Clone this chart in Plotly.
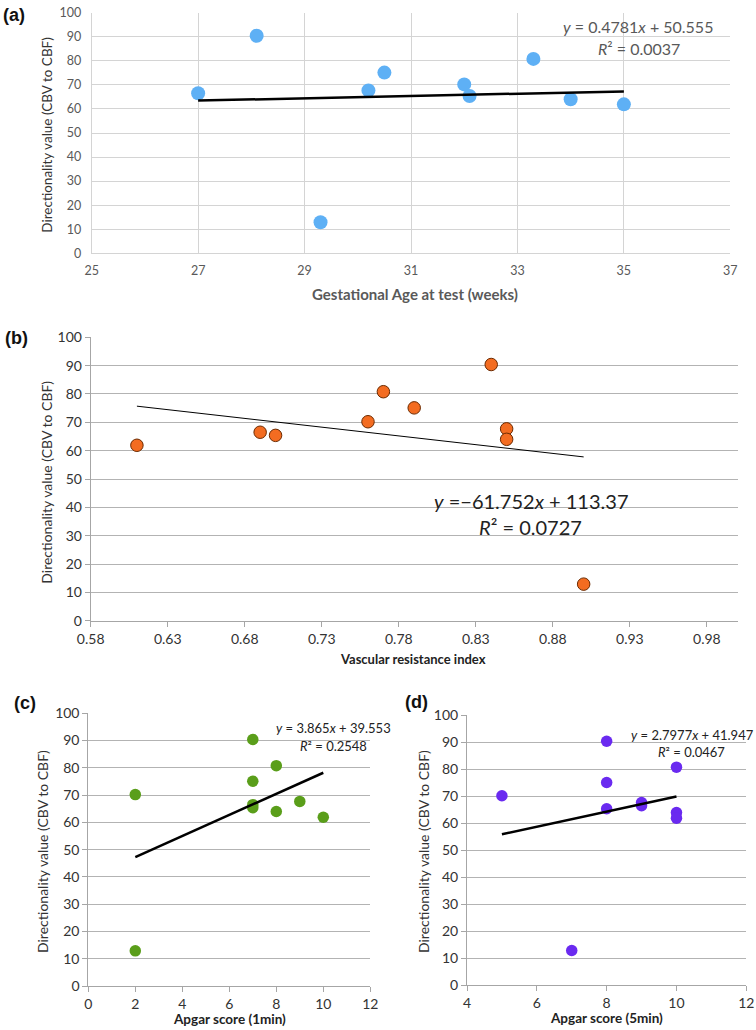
import plotly.graph_objects as go

# ---- data ----
directionality = [66.5, 90.4, 12.9, 67.7, 75.1, 70.2, 65.4, 80.8, 64.0, 61.9]
gest_age = [27.0, 28.1, 29.3, 30.2, 30.5, 32.0, 32.1, 33.3, 34.0, 35.0]
vri = [0.69, 0.84, 0.90, 0.85, 0.79, 0.76, 0.70, 0.77, 0.85, 0.61]
apgar1 = [7, 7, 2, 9, 7, 2, 7, 8, 8, 10]
apgar5 = [9, 8, 7, 9, 8, 5, 8, 10, 10, 10]

fit_a = (0.4781, 50.555)
fit_b = (-61.752, 113.37)
fit_c = (3.865, 39.553)
fit_d = (2.7977, 41.947)

W, H = 756, 1030
FONT = "Lato"

def px(x):
    return x / W

def py(y):
    return 1 - y / H

fig = go.Figure()

def add_panel(n, xs, ys, fit, color, msize, line_w, outline=None):
    xa = "x" if n == 1 else f"x{n}"
    ya = "y" if n == 1 else f"y{n}"
    fig.add_trace(go.Scatter(
        x=xs, y=ys, mode="markers", xaxis=xa, yaxis=ya,
        marker=dict(size=msize, color=color, opacity=1,
                    line=dict(width=1 if outline else 0, color=outline or color)),
        showlegend=False))
    x0, x1 = min(xs), max(xs)
    m, b = fit
    fig.add_trace(go.Scatter(
        x=[x0, x1], y=[m * x0 + b, m * x1 + b], mode="lines", xaxis=xa, yaxis=ya,
        line=dict(color="black", width=line_w), showlegend=False))

add_panel(1, gest_age, directionality, fit_a, "#5EB0F5", 14, 2.5)
add_panel(2, vri, directionality, fit_b, "#F36C21", 12.5, 1, outline="#6B2A00")
add_panel(3, apgar1, directionality, fit_c, "#5A9E1A", 11.5, 2.5)
add_panel(4, apgar5, directionality, fit_d, "#6A2AF0", 11.5, 2.5)

# ---- axes ----
grey_tick = dict(family=FONT, size=12.5, color="#595959")
dark_tick = dict(family=FONT, size=14, color="#333333")

common = dict(automargin=False, zeroline=False, showline=True)

fig.update_layout(
    xaxis=dict(domain=[px(91.7), px(730.3)], range=[25, 37], dtick=2, tick0=25,
               showgrid=True, gridcolor="#D4D4D4", gridwidth=1,
               linecolor="#D4D4D4", ticks="outside", ticklen=6,
               tickcolor="rgba(0,0,0,0)", tickfont=grey_tick, anchor="y", **common),
    yaxis=dict(domain=[py(253.3), py(12.7)], range=[0, 100], dtick=10,
               showgrid=True, gridcolor="#D4D4D4", gridwidth=1,
               linecolor="#D4D4D4", ticks="outside", ticklen=7,
               tickcolor="rgba(0,0,0,0)", tickfont=grey_tick, anchor="x", **common),
    xaxis2=dict(domain=[px(90.7), px(737.7)], range=[0.58, 1.0], dtick=0.05, tick0=0.58,
                tickformat=".2f", showgrid=False,
                linecolor="#A6A6A6", ticks="outside", ticklen=5,
                tickcolor="#A6A6A6", tickfont=dark_tick, anchor="y2", **common),
    yaxis2=dict(domain=[py(620.7), py(337.3)], range=[0, 100], dtick=10,
                showgrid=True, gridcolor="#B3B3B3",
                linecolor="#A6A6A6", ticks="outside", ticklen=5,
                tickcolor="#A6A6A6", tickfont=dark_tick, anchor="x2", **common),
    xaxis3=dict(domain=[px(88.3), px(370.3)], range=[0, 12], dtick=2,
                showgrid=False,
                linecolor="#A6A6A6", ticks="outside", ticklen=5,
                tickcolor="#A6A6A6", tickfont=dark_tick, anchor="y3", **common),
    yaxis3=dict(domain=[py(986), py(713.3)], range=[0, 100], dtick=10,
                showgrid=True, gridcolor="#B3B3B3",
                linecolor="#A6A6A6", ticks="outside", ticklen=5,
                tickcolor="#A6A6A6", tickfont=dark_tick, anchor="x3", **common),
    xaxis4=dict(domain=[px(467), px(746.3)], range=[4, 12], dtick=2,
                showgrid=False,
                linecolor="#A6A6A6", ticks="outside", ticklen=5,
                tickcolor="#A6A6A6", tickfont=dark_tick, anchor="y4", **common),
    yaxis4=dict(domain=[py(985.3), py(715.3)], range=[0, 100], dtick=10,
                showgrid=True, gridcolor="#B3B3B3",
                linecolor="#A6A6A6", ticks="outside", ticklen=5,
                tickcolor="#A6A6A6", tickfont=dark_tick, anchor="x4", **common),
)

ann = []

def text(x, y, t, size, color="#222222", angle=0, bold=False, anchor="center"):
    ann.append(dict(x=px(x), y=py(y), xref="paper", yref="paper", text=(f"<b>{t}</b>" if bold else t),
                    showarrow=False, xanchor=anchor, yanchor="middle", textangle=angle,
                    font=dict(family=FONT, size=size, color=color)))

ylab = "Directionality value (CBV to CBF)"
for lx, ly, lab in [(14, 15, "(a)"), (16, 338, "(b)"), (25, 703, "(c)"), (416, 702, "(d)")]:
    ann.append(dict(x=px(lx), y=py(ly), xref="paper", yref="paper", text=f"<b>{lab}</b>",
                    showarrow=False, xanchor="center", yanchor="middle",
                    font=dict(family="Liberation Sans", size=18, color="#111111")))

# y titles
text(46.7, 135, ylab, 13.5, "#333333", angle=-90)
text(45.7, 482, ylab, 14, "#333333", angle=-90)
text(42, 852, ylab, 14, "#333333", angle=-90)
text(423, 852, ylab, 14, "#333333", angle=-90)

# x titles
text(415, 294, "Gestational Age at test (weeks)", 15, "#595959", bold=True)
text(413, 659, "Vascular resistance index", 13, "#222222", bold=True)
text(229, 1019, "Apgar score (1min)", 13.5, "#222222", bold=True)
text(606.5, 1018, "Apgar score (5min)", 13.5, "#222222", bold=True)

# equations
text(638, 26.7, "<i>y</i> = 0.4781<i>x</i> + 50.555", 16, "#595959")
text(638.5, 48, "<i>R</i>² = 0.0037", 16, "#595959")
text(531, 500.7, "<i>y</i> =\u221261.752<i>x</i> + 113.37", 20, "#222222")
text(530, 526.7, "<i>R</i>² = 0.0727", 20, "#222222")
text(333, 728, "<i>y</i> = 3.865<i>x</i> + 39.553", 13, "#222222")
text(333, 746, "<i>R</i>² = 0.2548", 13, "#222222")
text(692, 735, "<i>y</i> = 2.7977<i>x</i> + 41.947", 13, "#222222")
text(691.5, 752, "<i>R</i>² = 0.0467", 13, "#222222")

fig.update_layout(annotations=ann, width=W, height=H,
                  margin=dict(l=0, r=0, t=0, b=0, autoexpand=False),
                  paper_bgcolor="white", plot_bgcolor="white",
                  font=dict(family=FONT))

fig.write_html("out.html", config={"displayModeBar": False},
               post_script="document.body.style.margin='0';document.body.style.padding='0';"
                           "document.body.style.overflow='hidden';")
